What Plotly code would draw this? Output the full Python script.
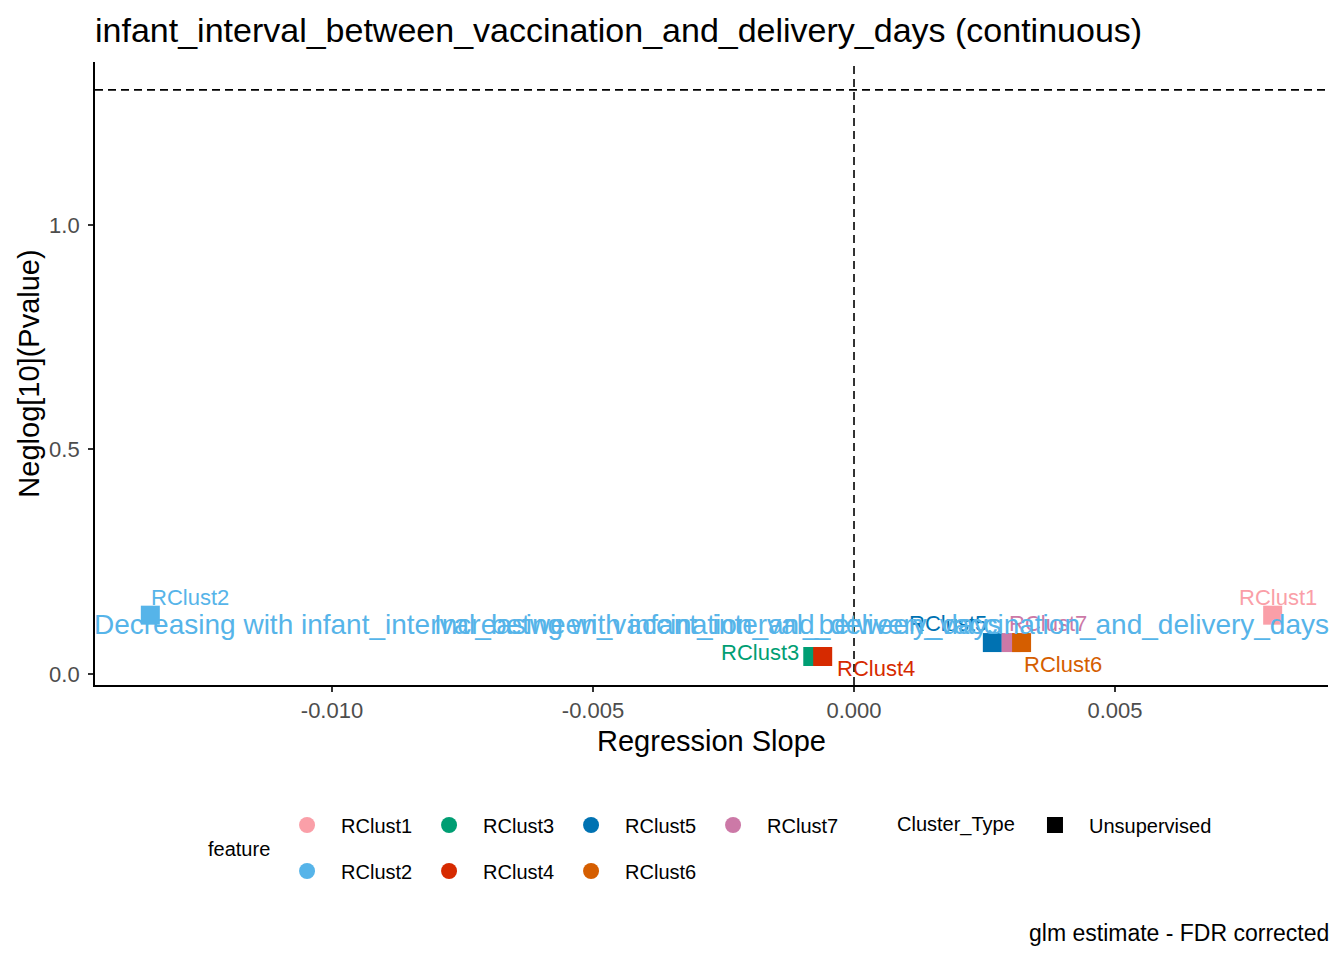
import plotly.graph_objects as go

# cluster results
features = ["RClust1", "RClust2", "RClust3", "RClust4", "RClust5", "RClust7", "RClust6"]
slopes = [0.00802, -0.01348, -0.00079, -0.00060, 0.00265, 0.00301, 0.00321]
neglog_p = [0.131, 0.131, 0.039, 0.039, 0.070, 0.070, 0.070]
cluster_type = "Unsupervised"

feature_colors = {
    "RClust1": "#FA9FA8",
    "RClust2": "#56B4E9",
    "RClust3": "#009E73",
    "RClust4": "#D62A00",
    "RClust5": "#0072B2",
    "RClust6": "#D55E00",
    "RClust7": "#CC79A7",
}
legend_row1 = ["RClust1", "RClust3", "RClust5", "RClust7"]
legend_row2 = ["RClust2", "RClust4", "RClust6"]

x_ticks = [-0.010, -0.005, 0.000, 0.005]
x_ticklabels = ["-0.010", "-0.005", "0.000", "0.005"]
y_ticks = [0.0, 0.5, 1.0]
y_ticklabels = ["0.0", "0.5", "1.0"]

p_cutoff = 1.30103  # -log10(0.05)
slope_zero = 0.0

variable = "infant_interval_between_vaccination_and_delivery_days"

# repelled label offsets in pixels (xshift, yshift)
label_shift = {
    "RClust1": (5, 18),
    "RClust2": (40, 18),
    "RClust3": (-53, 4),
    "RClust4": (53, -12),
    "RClust5": (-44, 19),
    "RClust6": (41, -22),
    "RClust7": (37, 19),
}

FONT = "Liberation Sans, Arial, sans-serif"

fig = go.Figure()

# points
for f, x, y in zip(features, slopes, neglog_p):
    fig.add_trace(go.Scatter(
        x=[x], y=[y], mode="markers", showlegend=False,
        marker=dict(symbol="square", size=19, color=feature_colors[f], line_width=0),
        name=f, hoverinfo="x+y+name"))

# legend-only entries (circles, like ggplot's guide)
for rank, f in enumerate(legend_row1):
    fig.add_trace(go.Scatter(x=[None], y=[None], mode="markers", name=f, legend="legend",
                             legendrank=rank, marker=dict(symbol="circle", size=19, color=feature_colors[f])))
for rank, f in enumerate(legend_row2):
    fig.add_trace(go.Scatter(x=[None], y=[None], mode="markers", name=f, legend="legend2",
                             legendrank=rank, marker=dict(symbol="circle", size=19, color=feature_colors[f])))
fig.add_trace(go.Scatter(x=[None], y=[None], mode="markers", name=cluster_type, legend="legend3",
                         marker=dict(symbol="square", size=18, color="black")))

# reference lines
fig.add_hline(y=p_cutoff, line=dict(color="black", width=1.6, dash="8px,5px"))
fig.add_vline(x=slope_zero, line=dict(color="black", width=1.6, dash="8px,5px"))

# point labels
for f, x, y in zip(features, slopes, neglog_p):
    dx, dy = label_shift[f]
    fig.add_annotation(x=x, y=y, text=f, showarrow=False, xshift=dx, yshift=dy, yanchor="middle",
                       font=dict(family=FONT, size=22, color=feature_colors[f]))

# direction labels
direction_y = 0.111
fig.add_annotation(xref="paper", x=0, y=direction_y, xanchor="left", yanchor="middle",
                   xshift=-3, showarrow=False, text="Decreasing with " + variable,
                   font=dict(family=FONT, size=28, color="#56B4E9"))
fig.add_annotation(xref="paper", x=1, y=direction_y, xanchor="right", yanchor="middle",
                   xshift=3, showarrow=False, text="Increasing with " + variable,
                   font=dict(family=FONT, size=28, color="#56B4E9"))

# legend titles and caption
fig.add_annotation(xref="paper", yref="paper", x=0.0916, y=-0.2632, xanchor="left", yanchor="middle",
                   xshift=-2, showarrow=False, text="feature", font=dict(family=FONT, size=20, color="black"))
fig.add_annotation(xref="paper", yref="paper", x=0.6504, y=-0.2247, xanchor="left", yanchor="middle",
                   xshift=-2, showarrow=False, text="Cluster_Type", font=dict(family=FONT, size=20, color="black"))
fig.add_annotation(xref="paper", yref="paper", x=1, y=-0.398, xanchor="right", yanchor="middle",
                   xshift=3, showarrow=False, text="glm estimate - FDR corrected",
                   font=dict(family=FONT, size=23, color="black"))

legend_common = dict(orientation="h", xanchor="left", yanchor="middle", itemwidth=58,
                     bgcolor="rgba(0,0,0,0)", font=dict(family=FONT, size=20, color="black"))

# page body adds 8px around the figure, so the figure is 8px smaller than the window
fig.update_layout(
    width=1336, height=952,
    margin=dict(l=87, r=16, t=54, b=275),
    paper_bgcolor="white", plot_bgcolor="white",
    font=dict(family=FONT, color="black"),
    title=dict(text=variable + " (continuous)", x=87 / 1336, xanchor="left",
               y=1 - 22 / 952, yanchor="middle",
               font=dict(family=FONT, size=34, color="black")),
    showlegend=True,
    legend=dict(x=0.1444, y=-0.2247, entrywidth=69, **legend_common),
    legend2=dict(x=0.1444, y=-0.2986, entrywidth=69, **legend_common),
    legend3=dict(x=0.751, y=-0.2247, **legend_common),
    xaxis=dict(
        range=[-0.01454, 0.00908], tickvals=x_ticks, ticktext=x_ticklabels,
        showgrid=False, zeroline=False, showline=True, linecolor="black", linewidth=1.8,
        ticks="outside", ticklen=5, tickwidth=1.8, tickcolor="#333333", automargin=False,
        tickfont=dict(family=FONT, size=22, color="#4D4D4D"),
        title=dict(text="Regression Slope", standoff=8,
                   font=dict(family=FONT, size=29, color="black")),
    ),
    yaxis=dict(
        range=[-0.0245, 1.363], tickvals=y_ticks, ticktext=y_ticklabels,
        showgrid=False, zeroline=False, showline=True, linecolor="black", linewidth=1.8,
        ticks="outside", ticklen=5, tickwidth=1.8, tickcolor="#333333", automargin=False,
        ticklabelstandoff=4,
        tickfont=dict(family=FONT, size=22, color="#4D4D4D"),
        title=dict(text="Neglog[10](Pvalue)", standoff=1,
                   font=dict(family=FONT, size=29, color="black")),
    ),
)

fig.write_html("out.html")
